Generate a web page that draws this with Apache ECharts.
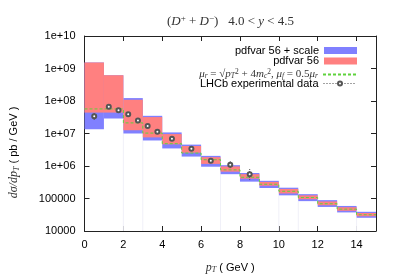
<!DOCTYPE html>
<html><head><meta charset="utf-8">
<script src="https://cdn.jsdelivr.net/npm/echarts@6/dist/echarts.min.js"></script>
<style>html,body{margin:0;padding:0;background:#fff}#c{width:398px;height:279px}</style>
</head><body><div id="c"></div>
<script>
// ---- data ----
const binStart = [0,1,2,3,4,5,6,7,8,9,10,11,12,13,14];
const binEnd   = [1,2,3,4,5,6,7,8,9,10,11,12,13,14,15];
// pdfvar 56 + scale (blue band)
const blueHi = [1.53e9,6.2e8,1.23e8,3.5e7,1.08e7,4.55e6,2.05e6,1.06e6,6.1e5,3.5e5,2.15e5,1.36e5,8.9e4,5.9e4,3.9e4];
const blueLo = [1.35e7,2.9e7,1.0e7,6.1e6,3.47e6,1.95e6,9.5e5,5.6e5,3.3e5,2.1e5,1.25e5,8.3e4,5.5e4,3.73e4,2.55e4];
// pdfvar 56 (red band)
const redHi  = [1.53e9,6.2e8,1.09e8,3.2e7,9.6e6,4.13e6,1.87e6,9.7e5,5.6e5,3.24e5,1.97e5,1.25e5,8.1e4,5.4e4,3.58e4];
const redLo  = [4.4e7,4.4e7,1.26e7,7.6e6,4.65e6,2.56e6,1.16e6,6.7e5,4.07e5,2.47e5,1.43e5,9.5e4,6.2e4,4.19e4,2.84e4];
// central scale choice (green dashed step)
const central = [5.7e7,5.7e7,2.12e7,1.03e7,4.86e6,2.5e6,1.56e6,7.6e5,4.5e5,2.75e5,1.67e5,1.07e5,6.9e4,4.7e4,3.16e4];
// LHCb experimental data
const dataPt  = [0.5,1.25,1.75,2.25,2.75,3.25,3.75,4.5,5.5,6.5,7.5,8.5];
const dataVal = [3.4e7,6.6e7,5.2e7,3.9e7,2.5e7,1.7e7,1.13e7,6.9e6,3.4e6,1.46e6,1.1e6,5.6e5];
const dataLo  = [2.6e7,6.0e7,4.7e7,3.5e7,2.25e7,1.53e7,1.02e7,6.2e6,3.05e6,1.3e6,0.86e6,3.7e5];
const dataHi  = [4.4e7,7.3e7,5.7e7,4.3e7,2.75e7,1.87e7,1.24e7,7.6e6,3.75e6,1.62e6,1.4e6,8.2e5];
// faint edge artefacts (bin indices)
const edgeBins = [2,3,7,10,11,14];
const yTickLabels = {4:'10000',5:'100000',6:'1e+06',7:'1e+07',8:'1e+08',9:'1e+09',10:'1e+10'};
const xTicks = [0,2,4,6,8,10,12,14];

const names = ['pdfvar 56 + scale','pdfvar 56','mu','LHCb experimental data'];
const BLUE = '#8080ff', RED = '#ff8080', GREEN = '#5ed23c';
const SANS = 'Liberation Sans', SERIF = 'Liberation Serif';

function bandItem(color){
  return function(params, api){
    const p0 = api.coord([api.value(0), api.value(3)]);
    const p1 = api.coord([api.value(1), api.value(2)]);
    return {type:'rect', shape:{x:p0[0], y:p0[1], width:p1[0]-p0[0], height:p1[1]-p0[1]}, style:{fill:color}};
  };
}

const legendRich = {
  t:{fontFamily:SANS,fontSize:11,color:'#000',lineHeight:12},
  p:{fontFamily:SERIF,fontSize:11,color:'#333',lineHeight:12},
  i:{fontFamily:SERIF,fontSize:11,fontStyle:'italic',color:'#333',lineHeight:12},
  sb:{fontFamily:SERIF,fontSize:7.5,fontStyle:'italic',color:'#333',verticalAlign:'bottom',lineHeight:12,padding:[4,0,0,0]},
  sp:{fontFamily:SERIF,fontSize:7.5,color:'#333',verticalAlign:'top',lineHeight:12,padding:[0,0,3,0]}
};
function legendFor(item, top, ih){
  return {
    orient:'vertical', right:36, top:top, align:'right',
    itemWidth:33, itemHeight:ih||7, itemGap:0, selectedMode:false,
    data:[item],
    formatter:function(n){
      if(n==='mu') return '{i|μ}{sb|r}{p| = √}{i|p}{sb|T}{sp|2}{p| + 4}{i|m}{sb|c}{sp|2}{p|, }{i|μ}{sb|f}{p| = 0.5}{i|μ}{sb|r}';
      return '{t|'+n+'}';
    },
    textStyle:{rich:legendRich}
  };
}

const chart = echarts.init(document.getElementById('c'), null, {renderer:'canvas'});
const axisLineStyle = {color:'#222', width:1};
chart.setOption({
  animation:false,
  title:{
    text:'{p|(}{i|D}{sp|+}{p| + }{i|D}{sp|−}{p|)   4.0 < }{i|y}{p| < 4.5}',
    left:162, top:9,
    textStyle:{rich:{
      p:{fontFamily:SERIF,fontSize:13,fontWeight:'normal',color:'#333'},
      i:{fontFamily:SERIF,fontSize:13,fontWeight:'normal',fontStyle:'italic',color:'#333'},
      sp:{fontFamily:SERIF,fontSize:9,fontWeight:'normal',color:'#333',verticalAlign:'top',padding:[0,0,6,0]}
    }}
  },
  grid:{left:82, top:36, width:294, height:203},
  legend:[
    legendFor({name:names[0], icon:'rect'}, 40),
    legendFor({name:names[1], icon:'rect'}, 50.5),
    legendFor({name:names[2], itemStyle:{opacity:0}}, 63.5),
    legendFor({name:names[3], lineStyle:{opacity:1,type:[1,2],color:'#444',width:1}}, 73, 5)
  ],
  xAxis:[{
    type:'value', min:0, max:15, interval:2, position:'bottom',
    axisLine:{show:true,onZero:false,lineStyle:axisLineStyle},
    axisTick:{show:true,inside:true,length:5,lineStyle:axisLineStyle},
    axisLabel:{fontFamily:SANS,fontSize:11,color:'#000',margin:8,showMaxLabel:false,
      formatter:v=>xTicks.indexOf(v)>=0?String(v):''},
    splitLine:{show:false},
    name:'{i|p}{sb|T}{t| ( GeV )}', nameLocation:'middle', nameGap:30,
    nameTextStyle:{rich:{
      i:{fontFamily:SERIF,fontSize:12,fontStyle:'italic',color:'#333'},
      sb:{fontFamily:SERIF,fontSize:8,fontStyle:'italic',color:'#333',verticalAlign:'bottom',padding:[5,0,0,0]},
      t:{fontFamily:SANS,fontSize:11,color:'#000'}
    }}
  },{
    type:'value', min:0, max:15, interval:2, position:'top',
    axisLine:{show:true,onZero:false,lineStyle:axisLineStyle},
    axisTick:{show:true,inside:true,length:5,lineStyle:axisLineStyle},
    axisLabel:{show:false}, splitLine:{show:false}
  }],
  yAxis:[{
    type:'log', logBase:10, min:1e4, max:1e10, position:'left',
    axisLine:{show:true,onZero:false,lineStyle:axisLineStyle},
    axisTick:{show:true,inside:true,length:5,lineStyle:axisLineStyle},
    minorTick:{show:false},
    axisLabel:{fontFamily:SANS,fontSize:11,color:'#000',margin:9,
      formatter:v=>{const e=Math.round(Math.log10(v));return yTickLabels[e]||'';}},
    splitLine:{show:false},
    name:'{m|dσ/dp}{sb|T}{t| ( pb / GeV )}', nameLocation:'middle', nameGap:64, nameRotate:90,
    nameTextStyle:{padding:[0,38,0,0],rich:{
      m:{fontFamily:SERIF,fontSize:12,fontStyle:'italic',color:'#333'},
      sb:{fontFamily:SERIF,fontSize:8,fontStyle:'italic',color:'#333',verticalAlign:'bottom',padding:[5,0,0,0]},
      t:{fontFamily:SANS,fontSize:11,color:'#000'}
    }}
  },{
    type:'log', logBase:10, min:1e4, max:1e10, position:'right',
    axisLine:{show:true,onZero:false,lineStyle:axisLineStyle},
    axisTick:{show:true,inside:true,length:5,lineStyle:axisLineStyle},
    axisLabel:{show:false}, splitLine:{show:false}
  }],
  series:[
    {name:'edges', type:'custom', silent:true, z:1,
     data:edgeBins.map(i=>[binStart[i], blueLo[i]]),
     encode:{x:0,y:1},
     renderItem:function(params, api){
       const a = api.coord([api.value(0), 1e4]);
       const b = api.coord([api.value(0), api.value(1)]);
       return {type:'line', shape:{x1:a[0],y1:a[1],x2:b[0],y2:b[1]}, style:{stroke:'#f0f0f8',lineWidth:1}};
     }},
    {name:names[0], type:'custom', z:2, itemStyle:{color:BLUE},
     data:binStart.map((s,i)=>[s, binEnd[i], blueLo[i], blueHi[i]]),
     encode:{x:[0,1], y:[2,3]}, renderItem:bandItem(BLUE)},
    {name:names[1], type:'custom', z:3, itemStyle:{color:RED},
     data:binStart.map((s,i)=>[s, binEnd[i], redLo[i], redHi[i]]),
     encode:{x:[0,1], y:[2,3]}, renderItem:bandItem(RED)},
    {name:names[2], type:'line', z:4, step:'end', symbol:'none',
     lineStyle:{color:GREEN,width:1,type:[3,2]}, itemStyle:{color:GREEN},
     data:binStart.map((s,i)=>[s, central[i]]).concat([[binEnd[14], central[14]]])},
    {name:'err', type:'custom', z:5, silent:true,
     data:dataPt.map((x,i)=>[x, dataLo[i], dataHi[i]]),
     encode:{x:0, y:[1,2]},
     renderItem:function(params, api){
       const a = api.coord([api.value(0), api.value(1)]);
       const b = api.coord([api.value(0), api.value(2)]);
       return {type:'line', shape:{x1:a[0],y1:a[1],x2:b[0],y2:b[1]}, style:{stroke:'#555',lineWidth:1,lineDash:[1,1]}};
     }},
    {name:names[3], type:'line', z:6, symbol:'emptyCircle', symbolSize:4,
     itemStyle:{color:'#555',borderWidth:1}, lineStyle:{opacity:0},
     data:dataPt.map((x,i)=>[x, dataVal[i]])}
  ]
});
</script></body></html>
